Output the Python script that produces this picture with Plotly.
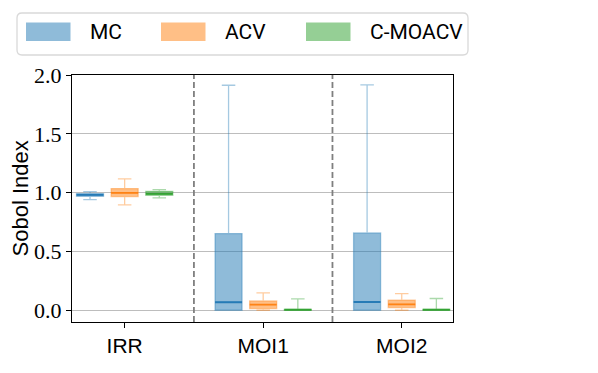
import plotly.graph_objects as go

categories = ["IRR", "MOI1", "MOI2"]
series = ["MC", "ACV", "C-MOACV"]
colors = ["31,119,180", "255,127,14", "44,160,44"]

mc_q1 = [0.969, 0.0, 0.0]
mc_med = [0.980, 0.068, 0.070]
mc_q3 = [0.992, 0.652, 0.657]
mc_lo = [0.940, 0.0, 0.0]
mc_hi = [1.008, 1.913, 1.916]

acv_q1 = [0.966, 0.014, 0.023]
acv_med = [0.997, 0.048, 0.050]
acv_q3 = [1.034, 0.079, 0.085]
acv_lo = [0.896, 0.0, 0.0]
acv_hi = [1.117, 0.147, 0.142]

cm_q1 = [0.977, 0.0, 0.0]
cm_med = [0.990, 0.004, 0.004]
cm_q3 = [1.011, 0.008, 0.008]
cm_lo = [0.955, 0.0, 0.0]
cm_hi = [1.025, 0.096, 0.100]

stats = [
    (mc_q1, mc_med, mc_q3, mc_lo, mc_hi),
    (acv_q1, acv_med, acv_q3, acv_lo, acv_hi),
    (cm_q1, cm_med, cm_q3, cm_lo, cm_hi),
]

# the page body adds an 8px margin, so work in window pixels minus that
OFF = 8
W, H = 598 - OFF, 373 - OFF
L, R, T, B = 72 - OFF, 453 - OFF, 75 - OFF, 322 - OFF


def px(x):
    return (x - OFF - L) / (R - L)


def py(y):
    return (B - (y - OFF)) / (B - T)


fig = go.Figure()

for name, rgb, (q1, med, q3, lo, hi) in zip(series, colors, stats):
    fig.add_trace(go.Box(
        x=categories, q1=q1, median=med, q3=q3, lowerfence=lo, upperfence=hi,
        name=name, offsetgroup=name, alignmentgroup="a",
        fillcolor=f"rgba({rgb},0.5)",
        line=dict(color=f"rgba({rgb},0.4)", width=1.3),
        whiskerwidth=0.5, showlegend=False, hoverinfo="skip"))
    # solid median line on top
    fig.add_trace(go.Box(
        x=categories, q1=med, median=med, q3=med, lowerfence=med, upperfence=med,
        name=name, offsetgroup=name, alignmentgroup="a",
        fillcolor="rgba(0,0,0,0)",
        line=dict(color=f"rgba({rgb},0.9)", width=1.8),
        whiskerwidth=0, showlegend=False, hoverinfo="skip"))

# separators between groups
for xv in [0.5, 1.5]:
    fig.add_shape(type="line", xref="x", yref="paper", x0=xv, x1=xv, y0=0, y1=1,
                  line=dict(color="#7f7f7f", width=1.8, dash="6px,3px"))

# hand-drawn legend
lx0, lx1, ly0, ly1, rr = 17, 468, 13, 55, 5
path = (f"M{px(lx0 + rr)},{py(ly0)} L{px(lx1 - rr)},{py(ly0)} "
        f"Q{px(lx1)},{py(ly0)} {px(lx1)},{py(ly0 + rr)} L{px(lx1)},{py(ly1 - rr)} "
        f"Q{px(lx1)},{py(ly1)} {px(lx1 - rr)},{py(ly1)} L{px(lx0 + rr)},{py(ly1)} "
        f"Q{px(lx0)},{py(ly1)} {px(lx0)},{py(ly1 - rr)} L{px(lx0)},{py(ly0 + rr)} "
        f"Q{px(lx0)},{py(ly0)} {px(lx0 + rr)},{py(ly0)} Z")
fig.add_shape(type="path", xref="paper", yref="paper", path=path,
              line=dict(color="#d9d9d9", width=1.3), fillcolor="white")
for name, rgb, rx, tx in zip(series, colors, [26, 161, 306], [88, 223, 368]):
    fig.add_shape(type="rect", xref="paper", yref="paper",
                  x0=px(rx), x1=px(rx + 44.5), y0=py(41), y1=py(22.5),
                  line=dict(width=0), fillcolor=f"rgba({rgb},0.5)")
    fig.add_annotation(x=px(tx), y=py(32), xref="paper", yref="paper",
                       text=name, showarrow=False, xanchor="left", yanchor="middle",
                       font=dict(family="Roboto", size=21, color="black"))

fig.add_annotation(x=px(20), y=0.5, xref="paper", yref="paper", text="Sobol Index",
                   textangle=-90, showarrow=False, xanchor="center", yanchor="middle",
                   font=dict(family="Liberation Sans", size=22, color="black"))

fig.update_layout(
    width=W, height=H,
    margin=dict(l=L, r=W - R, t=T, b=H - B, autoexpand=False),
    plot_bgcolor="white", paper_bgcolor="white",
    boxmode="group", boxgap=0.25, boxgroupgap=0.22,
    showlegend=False,
    xaxis=dict(type="category", range=[-0.38, 2.37], showgrid=False,
               showline=True, mirror=True, linecolor="black", linewidth=1,
               ticks="outside", ticklen=5, tickcolor="black",
               tickfont=dict(family="Liberation Sans", size=21, color="black")),
    yaxis=dict(range=[-0.1, 2.0], tickvals=[0, 0.5, 1.0, 1.5, 2.0],
               ticktext=["0.0", "0.5", "1.0", "1.5", "2.0"],
               showgrid=True, gridcolor="#bdbdbd", gridwidth=1, zeroline=False,
               showline=True, mirror=True, linecolor="black", linewidth=1,
               ticks="outside", ticklen=5, tickcolor="black",
               tickfont=dict(family="Liberation Serif", size=22, color="black")),
)

fig.write_html("out.html")
